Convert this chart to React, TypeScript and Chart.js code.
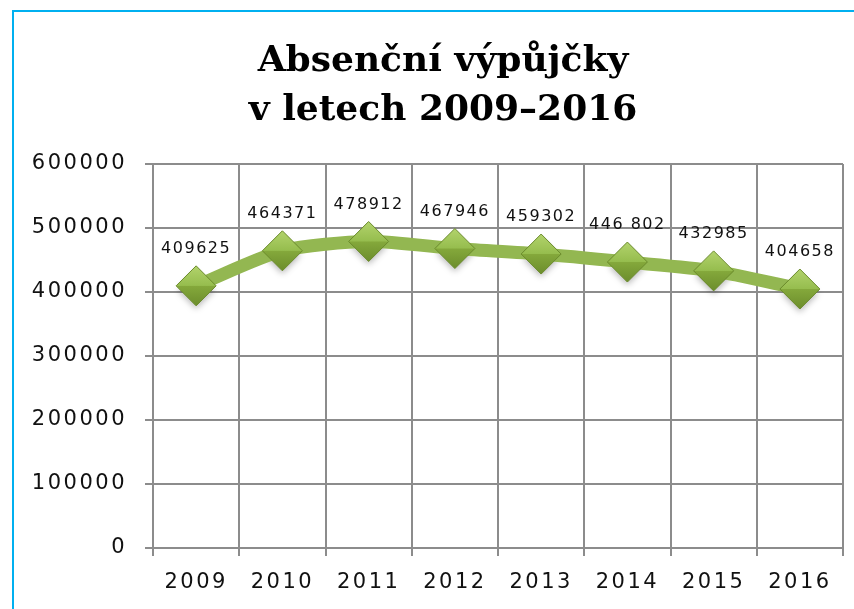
import React, { useEffect, useRef } from 'react';
import { Chart, registerables } from 'chart.js';

Chart.register(...registerables);

const years = ['2009', '2010', '2011', '2012', '2013', '2014', '2015', '2016'];
const loans = [409625, 464371, 478912, 467946, 459302, 446802, 432985, 404658];
const valueLabels = ['409625', '464371', '478912', '467946', '459302', '446 802', '432985', '404658'];
const titleLines = ['Absenční výpůjčky', 'v letech 2009–2016'];
const yMin = 0;
const yMax = 600000;
const yStep = 100000;

const GRID = '#8c8c8c';
const R = 20;

const decorPlugin = {
  id: 'decor',
  beforeDraw(chart: any) {
    chart.ctx.letterSpacing = '2.5px';
  },
  beforeDatasetsDraw(chart: any) {
    // soft drop shadow beneath the diamond markers
    const ctx = chart.ctx;
    const meta = chart.getDatasetMeta(0);
    ctx.save();
    ctx.filter = 'blur(3px)';
    ctx.fillStyle = 'rgba(0,0,0,0.28)';
    meta.data.forEach((pt: any) => {
      const x = pt.x;
      const y = pt.y + 5;
      const r = R * 0.9;
      ctx.beginPath();
      ctx.moveTo(x, y - r);
      ctx.lineTo(x + r, y);
      ctx.lineTo(x, y + r);
      ctx.lineTo(x - r, y);
      ctx.closePath();
      ctx.fill();
    });
    ctx.restore();
  },
  afterDatasetsDraw(chart: any) {
    const ctx = chart.ctx;
    const meta = chart.getDatasetMeta(0);
    ctx.save();
    ctx.letterSpacing = '1.5px';
    ctx.font = '16px "DejaVu Sans"';
    ctx.fillStyle = '#111';
    ctx.textAlign = 'center';
    ctx.textBaseline = 'middle';
    meta.data.forEach((pt: any, i: number) => {
      ctx.fillText(valueLabels[i], pt.x, pt.y - 37);
    });
    ctx.restore();
  },
  afterDraw(chart: any) {
    const ctx = chart.ctx;
    ctx.save();
    ctx.letterSpacing = '0px';
    ctx.font = 'bold 36px "DejaVu Serif"';
    ctx.fillStyle = '#000';
    ctx.textAlign = 'center';
    ctx.textBaseline = 'alphabetic';
    ctx.fillText(titleLines[0], 443, 71);
    ctx.fillText(titleLines[1], 443, 120);
    ctx.restore();
    ctx.letterSpacing = '0px';
  },
};

function diamondFill(c: any) {
  const chart = c.chart;
  const ys = chart.scales && chart.scales.y;
  if (!ys || c.type !== 'data' || !c.parsed) return '#8db446';
  const y = ys.getPixelForValue(c.parsed.y);
  if (!Number.isFinite(y)) return '#8db446';
  const g = chart.ctx.createLinearGradient(0, y - R, 0, y + R);
  g.addColorStop(0, '#b2d36c');
  g.addColorStop(0.49, '#96bd4e');
  g.addColorStop(0.51, '#84a83b');
  g.addColorStop(1, '#6c8d2c');
  return g;
}

export default function App() {
  const ref = useRef<HTMLCanvasElement>(null);
  useEffect(() => {
    if (!ref.current) return;
    const chart = new Chart(ref.current, {
      type: 'line',
      data: {
        labels: years,
        datasets: [
          {
            data: loans,
            borderColor: '#93b751',
            borderWidth: 13,
            tension: 0.25,
            pointStyle: 'rectRot',
            pointRadius: R,
            pointHoverRadius: R,
            pointBackgroundColor: diamondFill,
            pointBorderColor: '#6a8a2b',
            pointBorderWidth: 1,
          },
        ],
      },
      options: {
        responsive: false,
        animation: false,
        layout: { padding: { top: 164, right: 43, bottom: 0, left: 0 } },
        plugins: {
          legend: { display: false },
          title: { display: false },
          tooltip: { enabled: false },
        },
        scales: {
          x: {
            type: 'category',
            offset: true,
            grid: { offset: true, color: GRID, lineWidth: 2, tickLength: 8, tickColor: GRID },
            border: { color: GRID, width: 2 },
            ticks: {
              color: '#111',
              font: { family: '"DejaVu Sans"', size: 21, lineHeight: 1.0 },
              padding: 16,
              maxRotation: 0,
            },
            afterFit: (s: any) => {
              s.height = 61;
            },
          },
          y: {
            min: yMin,
            max: yMax,
            grid: { color: GRID, lineWidth: 2, tickLength: 8, tickColor: GRID },
            border: { color: GRID, width: 2 },
            ticks: {
              stepSize: yStep,
              color: '#111',
              font: { family: '"DejaVu Sans"', size: 21 },
              padding: 18,
              callback: (v: any) => String(v),
            },
            afterFit: (s: any) => {
              s.width = 153;
            },
          },
        },
      },
      plugins: [decorPlugin],
    });
    return () => chart.destroy();
  }, []);

  return (
    <div style={{ position: 'fixed', left: 0, top: 0, width: 854, height: 609, overflow: 'hidden', background: '#fff' }}>
      <div
        style={{
          position: 'absolute',
          left: 12,
          top: 10,
          width: 1000,
          height: 1000,
          borderLeft: '2px solid #00b0f0',
          borderTop: '2px solid #00b0f0',
        }}
      />
      <canvas ref={ref} width={886} height={609} style={{ position: 'absolute', left: 0, top: 0 }} />
    </div>
  );
}
